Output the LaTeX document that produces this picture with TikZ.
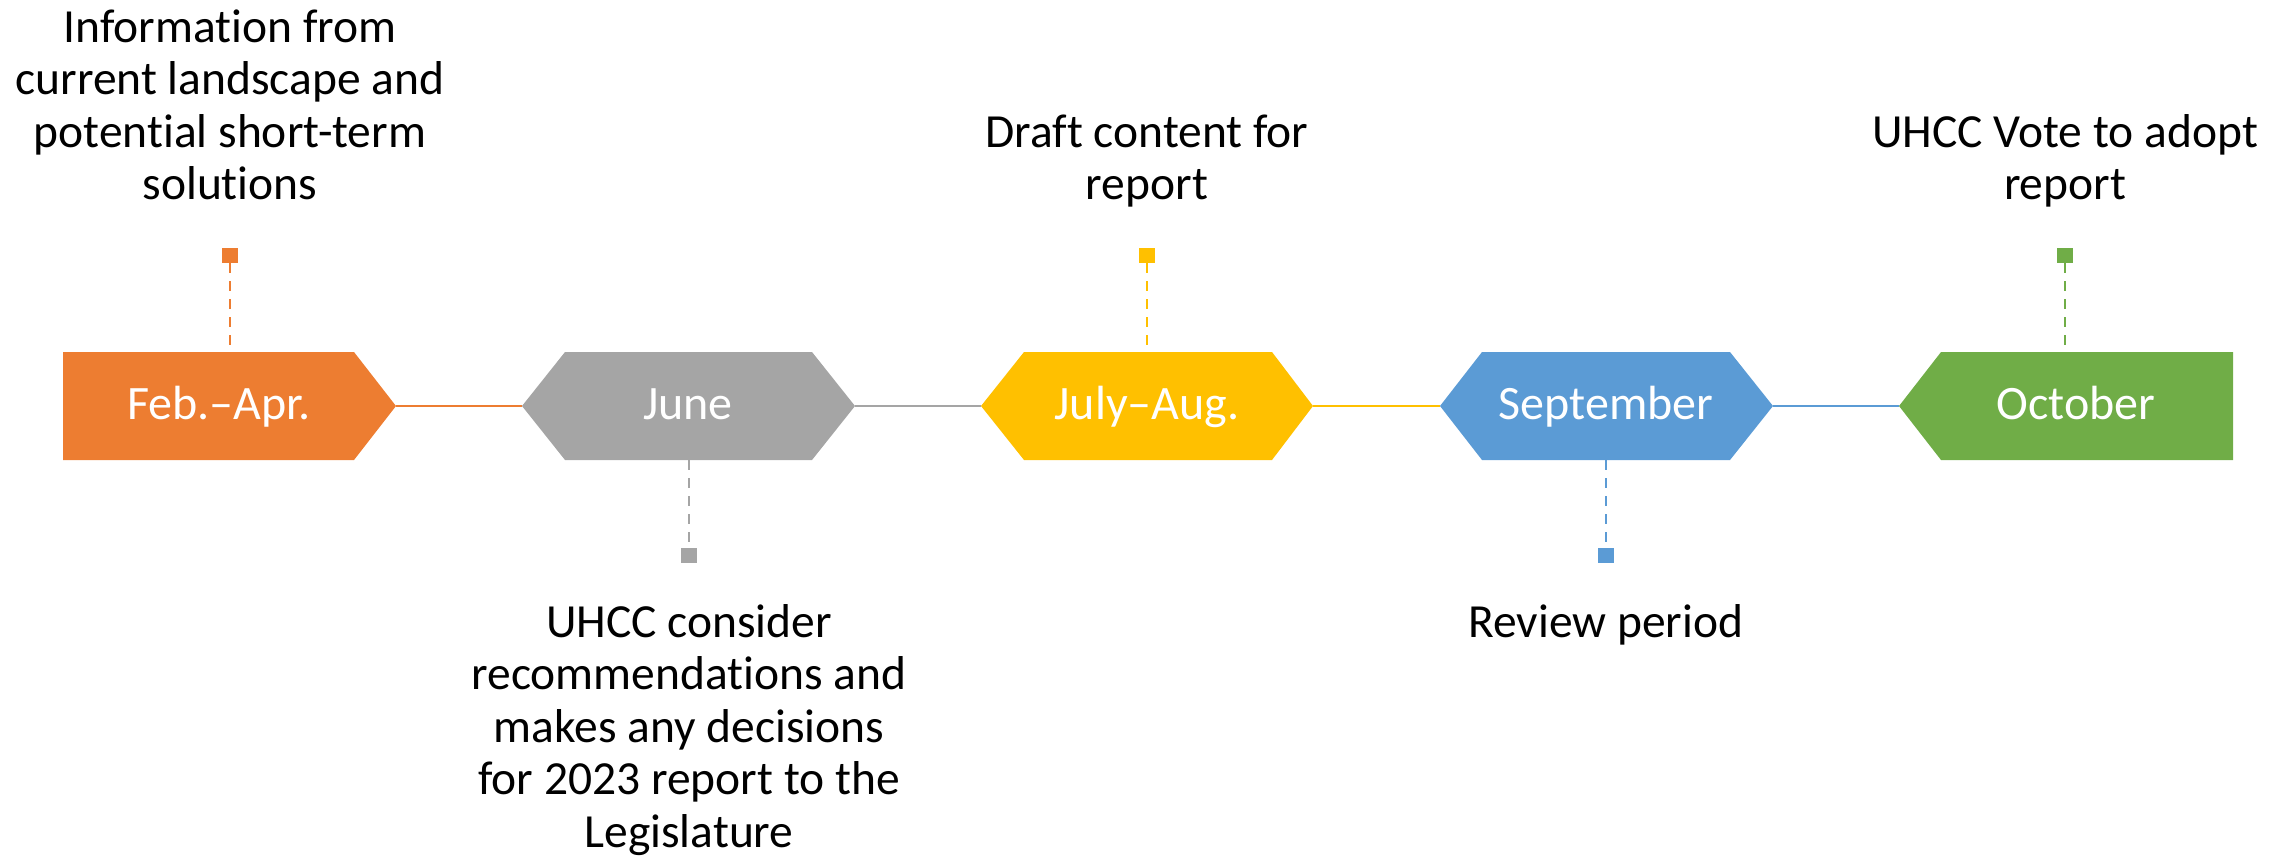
\documentclass[tikz,border=0pt]{standalone}
\usepackage{fontspec}
\setmainfont{Carlito}[Ligatures={NoCommon}]
\definecolor{cOrange}{HTML}{ED7D31}
\definecolor{cGrey}{HTML}{A5A5A5}
\definecolor{cYellow}{HTML}{FFC000}
\definecolor{cBlue}{HTML}{5B9BD5}
\definecolor{cGreen}{HTML}{70AD47}
\newcommand\mytopstrut{\rule{0pt}{35pt}}
\newcommand\mybotstrut{\rule[-12pt]{0pt}{12pt}}
\begin{document}
\begin{tikzpicture}[x=1pt,y=-1pt,
  boxtext/.style={anchor=base,text=white,inner sep=0pt,font=\fontsize{48}{52.5}\selectfont},
  labeltext/.style={align=center,inner sep=0pt,text=black,font=\fontsize{47.5}{52.5}\selectfont},
  link/.style={line width=2.5pt},
  stem/.style={line width=2pt,dash pattern=on 10pt off 8pt},
  marker/.style={minimum width=16pt,minimum height=15pt,inner sep=0pt,draw=none}
]
\useasboundingbox (0,0) rectangle (2289,857);

% shapes
\fill[cOrange] (63,352) -- (354,352) -- (396,406) -- (354,460) -- (63,460) -- cycle;
\fill[cGrey] (522,406) -- (565,352) -- (812,352) -- (855,406) -- (812,460) -- (565,460) -- cycle;
\fill[cYellow] (981,406) -- (1024,352) -- (1272,352) -- (1313,406) -- (1272,460) -- (1024,460) -- cycle;
\fill[cBlue] (1440,406) -- (1482,352) -- (1730,352) -- (1773,406) -- (1730,460) -- (1482,460) -- cycle;
\fill[cGreen] (1899,406) -- (1941,352) -- (2233,352) -- (2233,460) -- (1941,460) -- cycle;

% tips and edges
\coordinate (fR) at (396,406);
\coordinate (jL) at (522,406);
\coordinate (jR) at (855,406);
\coordinate (yL) at (981,406);
\coordinate (yR) at (1313,406);
\coordinate (sL) at (1440,406);
\coordinate (sR) at (1773,406);
\coordinate (oL) at (1899,406);
\coordinate (fT) at (230,352);
\coordinate (jB) at (689,460);
\coordinate (yT) at (1147,352);
\coordinate (sB) at (1606,460);
\coordinate (oT) at (2065,352);

% box texts
\node[boxtext] (tFeb) at (219,419) {Feb.–Apr.};
\node[boxtext] (tJun) at (688,419) {June};
\node[boxtext] (tJul) at (1147,419) {July–Aug.};
\node[boxtext] (tSep) at (1606,419) {September};
\node[boxtext] (tOct) at (2076,419) {October};

% links
\draw[link,cOrange] (fR) -- (jL);
\draw[link,cGrey] (jR) -- (yL);
\draw[link,cYellow] (yR) -- (sL);
\draw[link,cBlue] (sR) -- (oL);

% markers
\node[marker,fill=cOrange] (mF) at (230,255.5) {};
\node[marker,fill=cGrey] (mJ) at (689,555.5) {};
\node[marker,fill=cYellow] (mY) at (1147,255.5) {};
\node[marker,fill=cBlue] (mS) at (1606,555.5) {};
\node[marker,fill=cGreen] (mO) at (2065,255.5) {};

\draw[stem,cOrange] (mF.south) -- (fT);
\draw[stem,cGrey] (jB) -- (mJ.north);
\draw[stem,cYellow] (mY.south) -- (yT);
\draw[stem,cBlue] (sB) -- (mS.north);
\draw[stem,cGreen] (mO.south) -- (oT);

% labels
\node[labeltext,anchor=south] (lF) at (230,212) {Information from\\current landscape and\\potential short-term\\solutions\mybotstrut};
\node[labeltext,anchor=south] (lY) at (1147,212) {Draft content for\\report\mybotstrut};
\node[labeltext,anchor=south] (lO) at (2065,212) {UHCC Vote to adopt\\report\mybotstrut};
\node[labeltext,anchor=north] (lJ) at (689,602) {\mytopstrut UHCC consider\\recommendations and\\makes any decisions\\for 2023 report to the\\Legislature};
\node[labeltext,anchor=north] (lS) at (1606,602) {\mytopstrut Review period};
\end{tikzpicture}
\end{document}
